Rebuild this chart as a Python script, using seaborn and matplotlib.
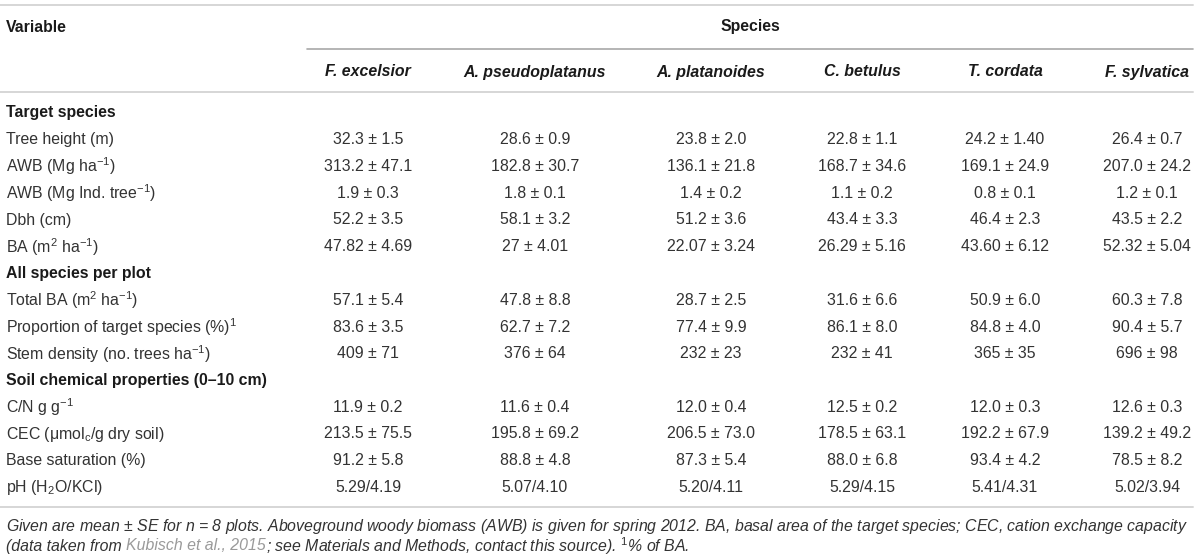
import matplotlib
matplotlib.use("Agg")

import matplotlib.pyplot as plt
import seaborn as sns


# Table content


species = ["F. excelsior", "A. pseudoplatanus", "A. platanoides",
           "C. betulus", "T. cordata", "F. sylvatica"]

section_titles = ["Target species",
                  "All species per plot",
                  "Soil chemical properties (0–10 cm)"]

target_vars = ["Tree height (m)",
               "AWB (Mg ha$^{-1}$)",
               "AWB (Mg Ind. tree$^{-1}$)",
               "Dbh (cm)",
               "BA (m$^{2}$ ha$^{-1}$)"]

tree_height = ["32.3 ± 1.5", "28.6 ± 0.9", "23.8 ± 2.0", "22.8 ± 1.1", "24.2 ± 1.40", "26.4 ± 0.7"]
awb_area = ["313.2 ± 47.1", "182.8 ± 30.7", "136.1 ± 21.8", "168.7 ± 34.6", "169.1 ± 24.9", "207.0 ± 24.2"]
awb_tree = ["1.9 ± 0.3", "1.8 ± 0.1", "1.4 ± 0.2", "1.1 ± 0.2", "0.8 ± 0.1", "1.2 ± 0.1"]
dbh = ["52.2 ± 3.5", "58.1 ± 3.2", "51.2 ± 3.6", "43.4 ± 3.3", "46.4 ± 2.3", "43.5 ± 2.2"]
basal_area = ["47.82 ± 4.69", "27 ± 4.01", "22.07 ± 3.24", "26.29 ± 5.16", "43.60 ± 6.12", "52.32 ± 5.04"]

plot_vars = ["Total BA (m$^{2}$ ha$^{-1}$)",
             "Proportion of target species (%)$^{1}$",
             "Stem density (no. trees ha$^{-1}$)"]

total_ba = ["57.1 ± 5.4", "47.8 ± 8.8", "28.7 ± 2.5", "31.6 ± 6.6", "50.9 ± 6.0", "60.3 ± 7.8"]
proportion = ["83.6 ± 3.5", "62.7 ± 7.2", "77.4 ± 9.9", "86.1 ± 8.0", "84.8 ± 4.0", "90.4 ± 5.7"]
stem_density = ["409 ± 71", "376 ± 64", "232 ± 23", "232 ± 41", "365 ± 35", "696 ± 98"]

soil_vars = ["C/N g g$^{-1}$",
             "CEC (μmol$_{\\mathrm{c}}$/g dry soil)",
             "Base saturation (%)",
             "pH (H$_{2}$O/KCl)"]

cn_ratio = ["11.9 ± 0.2", "11.6 ± 0.4", "12.0 ± 0.4", "12.5 ± 0.2", "12.0 ± 0.3", "12.6 ± 0.3"]
cec = ["213.5 ± 75.5", "195.8 ± 69.2", "206.5 ± 73.0", "178.5 ± 63.1", "192.2 ± 67.9", "139.2 ± 49.2"]
base_saturation = ["91.2 ± 5.8", "88.8 ± 4.8", "87.3 ± 5.4", "88.0 ± 6.8", "93.4 ± 4.2", "78.5 ± 8.2"]
ph = ["5.29/4.19", "5.07/4.10", "5.20/4.11", "5.29/4.15", "5.41/4.31", "5.02/3.94"]

sections = [
    (section_titles[0], target_vars, [tree_height, awb_area, awb_tree, dbh, basal_area]),
    (section_titles[1], plot_vars, [total_ba, proportion, stem_density]),
    (section_titles[2], soil_vars, [cn_ratio, cec, base_saturation, ph]),
]

note_line1 = ("Given are mean ± SE for $n$ = 8 plots. Aboveground woody biomass (AWB) is given "
              "for spring 2012. BA, basal area of the target species; CEC, cation exchange capacity")
note_start = "(data taken from"
note_link = "Kubisch et al., 2015"
note_end = "; see Materials and Methods, contact this source). $^{1}$% of BA."


# Style


sns.set_theme(style="white")
plt.rcParams["font.family"] = ["Liberation Sans", "DejaVu Sans"]
plt.rcParams["mathtext.fontset"] = "custom"
plt.rcParams["mathtext.rm"] = "Liberation Sans"
plt.rcParams["mathtext.it"] = "Liberation Sans:italic"
plt.rcParams["mathtext.bf"] = "Liberation Sans:bold"

FS = 11.45
TEXT = "#333333"
HEAD = "#1a1a1a"
RULE = "#d6d6d6"

col_x = [368, 535, 711, 862, 1005, 1147]
left = 6
row0 = 113
step = 26.75

fig = plt.figure(figsize=(12, 5.58), dpi=100)
ax = fig.add_axes([0, 0, 1, 1])
ax.set_xlim(0, 1200)
ax.set_ylim(558, 0)
ax.axis("off")


# Header


ax.plot([0, 1193], [5, 5], color=RULE, lw=1.4)
ax.text(left, 27, "Variable", fontsize=FS, fontweight="bold", color=HEAD, va="center")
ax.text(750, 27, "Species", fontsize=FS, fontweight="bold", color=HEAD, va="center", ha="center")
ax.plot([307, 1193], [49, 49], color="#a8a8a8", lw=1.2)

for x, name in zip(col_x, species):
    ax.text(x, 72, name, fontsize=FS, fontweight="bold", fontstyle="italic",
            color=HEAD, va="center", ha="center")

ax.plot([0, 1193], [92, 92], color=RULE, lw=1.4)


# Body


row = 0
for title, labels, rows in sections:
    y = row0 + row * step
    ax.text(left, y, title, fontsize=FS, fontweight="bold", color=HEAD, va="center")
    row += 1
    for label, values in zip(labels, rows):
        y = row0 + row * step
        ax.text(left, y, label, fontsize=FS, color=TEXT, va="center")
        for x, value in zip(col_x, values):
            ax.text(x, y, value, fontsize=FS, color=TEXT, va="center", ha="center")
        row += 1

ax.plot([0, 1193], [507, 507], color=RULE, lw=1.4)


# Footnote


ax.text(left, 526, note_line1, fontsize=FS, fontstyle="italic", color=TEXT, va="center")

renderer = fig.canvas.get_renderer()
space = 0.28 * FS / 0.72
t1 = ax.text(left, 546, note_start, fontsize=FS, fontstyle="italic", color=TEXT, va="center")
x1 = t1.get_window_extent(renderer).x1 + space
t2 = ax.text(x1, 546, note_link, fontsize=FS, fontstyle="italic", color="#9a9a9a", va="center")
x2 = t2.get_window_extent(renderer).x1
ax.text(x2, 546, note_end, fontsize=FS, fontstyle="italic", color=TEXT, va="center")

fig.savefig("out.png", dpi=100, facecolor="white")
